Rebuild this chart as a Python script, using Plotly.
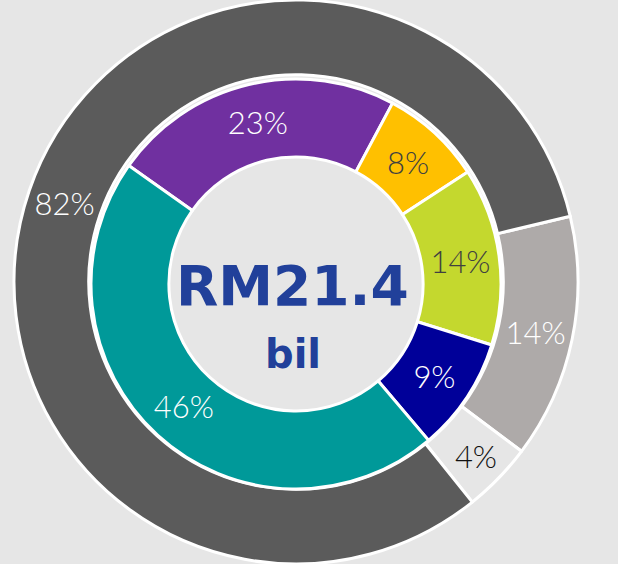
import plotly.graph_objects as go

# outer ring (clockwise from the light grey slice)
outer_labels = ["B", "C", "A"]
outer_values = [14, 4, 82]
outer_colors = ["#aeaaa9", "#e6e6e6", "#5b5b5b"]
outer_text_colors = ["#ffffff", "#111111", "#ffffff"]

# inner ring (clockwise from the purple slice)
inner_labels = ["purple", "yellow", "lime", "blue", "teal"]
inner_values = [23, 8, 14, 9, 46]
inner_colors = ["#7030a0", "#ffc000", "#c4d82e", "#000099", "#009999"]
inner_text_colors = ["#ffffff", "#404040", "#404040", "#ffffff", "#ffffff"]

center_value = "RM21.4"
center_unit = "bil"

W, H = 618, 564
cx, cy = 296, 282
cy_in = 284
r_out, r_in = 282, 205

fig = go.Figure()

fig.add_trace(go.Pie(
    labels=outer_labels, values=outer_values,
    sort=False, direction="clockwise", rotation=76.5,
    hole=0.735,
    marker=dict(colors=outer_colors, line=dict(color="#ffffff", width=3)),
    texttemplate="%{value}%", textposition="inside",
    insidetextorientation="horizontal",
    textfont=dict(family="Lato", size=31, color=outer_text_colors, weight=300),
    domain=dict(x=[(cx - r_out) / W, (cx + r_out) / W], y=[0, 1]),
    showlegend=False, hoverinfo="skip",
))

fig.add_trace(go.Pie(
    labels=inner_labels, values=inner_values,
    sort=False, direction="clockwise", rotation=-54.7,
    hole=0.62,
    marker=dict(colors=inner_colors, line=dict(color="#ffffff", width=3)),
    texttemplate="%{value}%", textposition="inside",
    insidetextorientation="horizontal",
    textfont=dict(family="Lato", size=31, color=inner_text_colors, weight=300),
    domain=dict(x=[(cx - r_in) / W, (cx + r_in) / W],
                y=[(H - cy_in - r_in) / H, (H - cy_in + r_in) / H]),
    showlegend=False, hoverinfo="skip",
))

fig.add_annotation(
    x=292 / W, y=1 - 286 / H, xref="paper", yref="paper",
    text="<b>" + center_value + "</b>", showarrow=False,
    font=dict(family="DejaVu Sans", size=55, color="#21409a"),
)
fig.add_annotation(
    x=293 / W, y=1 - 354 / H, xref="paper", yref="paper",
    text="<b>" + center_unit + "</b>", showarrow=False,
    font=dict(family="DejaVu Sans", size=40, color="#21409a"),
)

fig.update_layout(
    width=W, height=H,
    paper_bgcolor="#e6e6e6", plot_bgcolor="#e6e6e6",
    margin=dict(l=0, r=0, t=0, b=0),
)

fig.write_html(
    "out.html",
    config={"displayModeBar": False},
    post_script="document.body.style.margin='0';"
                "document.body.style.background='#e6e6e6';",
)
